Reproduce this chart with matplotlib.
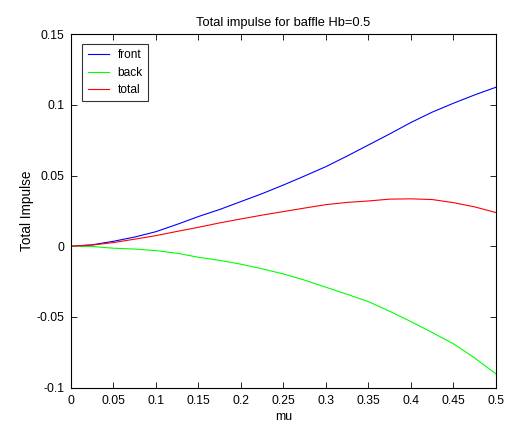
import matplotlib
matplotlib.use("Agg")
import matplotlib.pyplot as plt

plt.rcParams["font.family"] = ["Liberation Sans", "DejaVu Sans"]

mu = [0, 0.025, 0.05, 0.075, 0.1, 0.125, 0.15, 0.175, 0.2, 0.225, 0.25,
      0.275, 0.3, 0.325, 0.35, 0.375, 0.4, 0.425, 0.45, 0.475, 0.5]
front = [0, 0.001, 0.0035, 0.0065, 0.0103, 0.0155, 0.021, 0.026, 0.0316, 0.0372, 0.0433,
         0.0497, 0.0563, 0.0638, 0.0716, 0.0794, 0.0875, 0.0948, 0.1011, 0.107, 0.1124]
back = [0, -0.0002, -0.0014, -0.002, -0.0031, -0.005, -0.0078, -0.010, -0.0127, -0.016, -0.0196,
        -0.024, -0.029, -0.034, -0.0392, -0.046, -0.0533, -0.061, -0.069, -0.079, -0.0903]
total = [0, 0.0008, 0.0026, 0.005, 0.0075, 0.0105, 0.0134, 0.0165, 0.0193, 0.022, 0.0245,
         0.027, 0.0294, 0.031, 0.032, 0.0333, 0.0335, 0.033, 0.0308, 0.0278, 0.0238]

xticks = [0, 0.05, 0.1, 0.15, 0.2, 0.25, 0.3, 0.35, 0.4, 0.45, 0.5]
xtick_labels = ["0", "0.05", "0.1", "0.15", "0.2", "0.25", "0.3", "0.35", "0.4", "0.45", "0.5"]
yticks = [-0.1, -0.05, 0, 0.05, 0.1, 0.15]
ytick_labels = ["-0.1", "-0.05", "0", "0.05", "0.1", "0.15"]

fig = plt.figure(figsize=(5.16, 4.23), dpi=100)
ax = fig.add_axes([0.1376, 0.0835, 0.8236, 0.836])

ax.plot(mu, front, color="#0000ff", lw=0.8, label="front")
ax.plot(mu, back, color="#00ff00", lw=0.8, label="back")
ax.plot(mu, total, color="#ff0000", lw=0.8, label="total")

ax.set_xlim(0, 0.5)
ax.set_ylim(-0.1, 0.15)
ax.set_xticks(xticks)
ax.set_xticklabels(xtick_labels)
ax.set_yticks(yticks)
ax.set_yticklabels(ytick_labels)
ax.tick_params(direction="in", top=True, right=True, labelsize=8.8, length=4, width=0.6, pad=5)
for s in ax.spines.values():
    s.set_linewidth(0.8)

ax.set_title("Total impulse for baffle Hb=0.5", fontsize=9.3, pad=6)
ax.set_xlabel("mu", fontsize=9, va="baseline")
ax.xaxis.set_label_coords(0.5, -0.0913)
ax.set_ylabel("Total Impulse", fontsize=9.8, va="center")
ax.yaxis.set_label_coords(-0.1047, 0.5)

leg = ax.legend(loc="upper left", fontsize=8.6, frameon=True, fancybox=False,
                handlelength=1.8, handletextpad=0.7, borderpad=0.45, labelspacing=0.45,
                bbox_to_anchor=(0.027, 0.972), borderaxespad=0)
leg.get_frame().set_edgecolor("black")
leg.get_frame().set_linewidth(0.8)

fig.savefig("out.png", dpi=100)
